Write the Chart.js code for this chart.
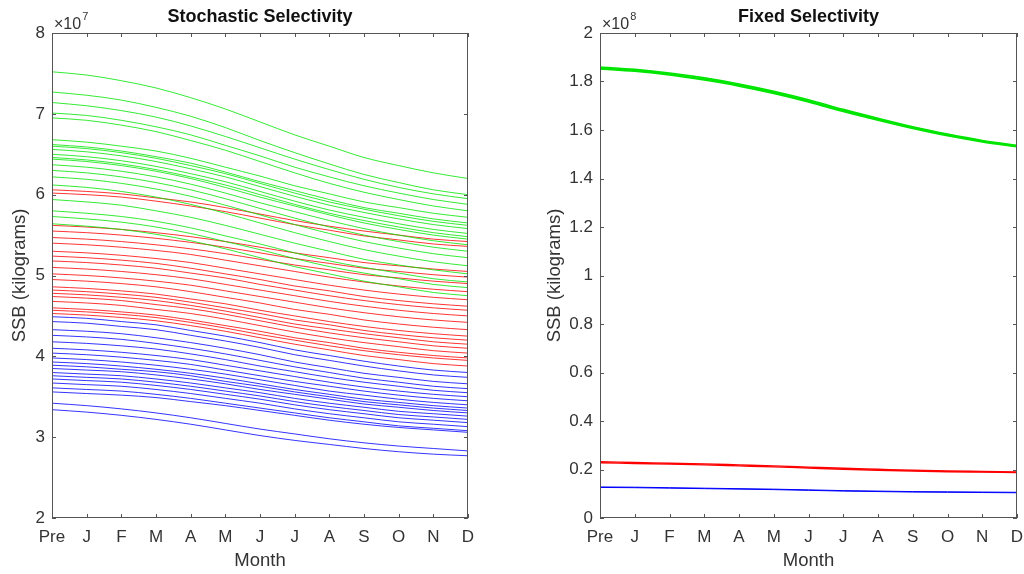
<!DOCTYPE html>
<html>
<head>
<meta charset="utf-8">
<script src="https://cdn.jsdelivr.net/npm/chart.js@4"></script>
<style>
  body { margin: 0; background: #fff; }
  .box { position: absolute; top: 0; height: 574px; }
</style>
</head>
<body>
<div class="box" style="left:0;width:490px"><canvas id="chart1"></canvas></div>
<div class="box" style="left:530px;width:494px"><canvas id="chart2"></canvas></div>
<script>
const months = ['Pre', 'J', 'F', 'M', 'A', 'M', 'J', 'J', 'A', 'S', 'O', 'N', 'D']

// Stochastic selectivity, SSB in units of 1e7 kg
const stochGreen = [
    [7.52, 7.48, 7.41, 7.32, 7.20, 7.06, 6.90, 6.74, 6.60, 6.46, 6.36, 6.27, 6.20],
    [7.27, 7.23, 7.17, 7.08, 6.97, 6.83, 6.67, 6.52, 6.38, 6.25, 6.15, 6.06, 6.00],
    [7.14, 7.10, 7.04, 6.96, 6.85, 6.72, 6.58, 6.44, 6.31, 6.19, 6.09, 6.01, 5.95],
    [7.01, 6.98, 6.92, 6.84, 6.74, 6.61, 6.48, 6.34, 6.22, 6.11, 6.02, 5.94, 5.88],
    [6.95, 6.92, 6.86, 6.78, 6.67, 6.55, 6.41, 6.27, 6.14, 6.03, 5.94, 5.86, 5.80],
    [6.68, 6.65, 6.60, 6.54, 6.45, 6.34, 6.23, 6.11, 6.01, 5.91, 5.84, 5.77, 5.72],
    [6.62, 6.59, 6.54, 6.47, 6.39, 6.28, 6.16, 6.05, 5.94, 5.84, 5.77, 5.70, 5.65],
    [6.60, 6.57, 6.52, 6.45, 6.36, 6.26, 6.14, 6.02, 5.91, 5.82, 5.74, 5.67, 5.62],
    [6.56, 6.53, 6.48, 6.41, 6.32, 6.22, 6.10, 5.98, 5.87, 5.78, 5.70, 5.63, 5.58],
    [6.50, 6.47, 6.42, 6.35, 6.26, 6.16, 6.04, 5.92, 5.81, 5.72, 5.64, 5.57, 5.52],
    [6.46, 6.43, 6.38, 6.31, 6.22, 6.12, 6.00, 5.88, 5.77, 5.68, 5.60, 5.53, 5.48],
    [6.44, 6.41, 6.36, 6.29, 6.20, 6.09, 5.97, 5.86, 5.75, 5.65, 5.57, 5.50, 5.45],
    [6.37, 6.34, 6.29, 6.22, 6.13, 6.02, 5.90, 5.79, 5.68, 5.58, 5.50, 5.43, 5.38],
    [6.30, 6.27, 6.22, 6.15, 6.06, 5.95, 5.83, 5.71, 5.60, 5.50, 5.42, 5.35, 5.30],
    [6.22, 6.19, 6.14, 6.07, 5.98, 5.87, 5.75, 5.63, 5.52, 5.42, 5.34, 5.27, 5.22],
    [6.12, 6.09, 6.04, 5.97, 5.88, 5.77, 5.65, 5.53, 5.42, 5.32, 5.24, 5.17, 5.12],
    [5.94, 5.91, 5.87, 5.80, 5.72, 5.62, 5.51, 5.40, 5.30, 5.20, 5.13, 5.07, 5.02],
    [5.80, 5.77, 5.73, 5.67, 5.59, 5.49, 5.39, 5.28, 5.18, 5.10, 5.03, 4.96, 4.92],
    [5.73, 5.70, 5.66, 5.60, 5.52, 5.42, 5.32, 5.21, 5.11, 5.03, 4.96, 4.89, 4.85],
    [5.64, 5.61, 5.57, 5.51, 5.43, 5.33, 5.22, 5.11, 5.02, 4.93, 4.86, 4.79, 4.75]
]
const stochRed = [
    [6.06, 6.04, 6.01, 5.96, 5.91, 5.84, 5.76, 5.68, 5.61, 5.55, 5.50, 5.45, 5.42],
    [6.02, 6.00, 5.97, 5.92, 5.86, 5.79, 5.71, 5.63, 5.56, 5.49, 5.44, 5.39, 5.36],
    [5.62, 5.60, 5.57, 5.53, 5.48, 5.42, 5.35, 5.28, 5.22, 5.16, 5.12, 5.08, 5.05],
    [5.55, 5.53, 5.50, 5.46, 5.41, 5.35, 5.28, 5.21, 5.15, 5.09, 5.05, 5.01, 4.98],
    [5.47, 5.45, 5.42, 5.38, 5.33, 5.27, 5.20, 5.13, 5.07, 5.01, 4.97, 4.93, 4.90],
    [5.40, 5.38, 5.35, 5.31, 5.26, 5.19, 5.12, 5.05, 4.98, 4.92, 4.87, 4.83, 4.80],
    [5.30, 5.28, 5.25, 5.21, 5.16, 5.09, 5.02, 4.95, 4.88, 4.82, 4.77, 4.73, 4.70],
    [5.24, 5.22, 5.19, 5.15, 5.09, 5.02, 4.95, 4.87, 4.81, 4.74, 4.69, 4.65, 4.62],
    [5.18, 5.16, 5.13, 5.09, 5.03, 4.97, 4.89, 4.82, 4.75, 4.69, 4.64, 4.60, 4.57],
    [5.10, 5.08, 5.05, 5.01, 4.96, 4.89, 4.82, 4.75, 4.68, 4.62, 4.57, 4.53, 4.50],
    [5.02, 5.00, 4.97, 4.93, 4.88, 4.81, 4.74, 4.67, 4.60, 4.54, 4.49, 4.45, 4.42],
    [4.95, 4.93, 4.90, 4.86, 4.80, 4.73, 4.66, 4.58, 4.52, 4.45, 4.40, 4.36, 4.33],
    [4.86, 4.84, 4.81, 4.77, 4.71, 4.65, 4.57, 4.50, 4.43, 4.37, 4.32, 4.28, 4.25],
    [4.82, 4.80, 4.77, 4.73, 4.67, 4.60, 4.53, 4.45, 4.39, 4.32, 4.27, 4.23, 4.20],
    [4.78, 4.76, 4.73, 4.69, 4.63, 4.56, 4.48, 4.40, 4.34, 4.28, 4.23, 4.18, 4.15],
    [4.74, 4.72, 4.69, 4.64, 4.59, 4.52, 4.44, 4.36, 4.29, 4.23, 4.18, 4.13, 4.10],
    [4.68, 4.66, 4.63, 4.58, 4.53, 4.46, 4.38, 4.30, 4.23, 4.17, 4.12, 4.07, 4.04],
    [4.60, 4.58, 4.55, 4.51, 4.45, 4.38, 4.31, 4.23, 4.17, 4.10, 4.05, 4.01, 3.98],
    [4.57, 4.55, 4.52, 4.48, 4.42, 4.35, 4.27, 4.20, 4.13, 4.07, 4.02, 3.98, 3.95],
    [4.53, 4.51, 4.48, 4.44, 4.38, 4.31, 4.23, 4.15, 4.08, 4.01, 3.96, 3.91, 3.88]
]
const stochBlue = [
    [4.49, 4.47, 4.43, 4.39, 4.32, 4.25, 4.17, 4.08, 4.01, 3.94, 3.88, 3.83, 3.80],
    [4.43, 4.41, 4.37, 4.33, 4.26, 4.19, 4.11, 4.02, 3.95, 3.88, 3.82, 3.77, 3.74],
    [4.33, 4.31, 4.28, 4.23, 4.17, 4.10, 4.02, 3.93, 3.86, 3.79, 3.74, 3.69, 3.66],
    [4.26, 4.24, 4.21, 4.16, 4.10, 4.03, 3.95, 3.87, 3.80, 3.73, 3.68, 3.63, 3.60],
    [4.18, 4.16, 4.13, 4.09, 4.03, 3.96, 3.88, 3.81, 3.74, 3.68, 3.63, 3.58, 3.55],
    [4.10, 4.08, 4.05, 4.01, 3.96, 3.89, 3.82, 3.75, 3.68, 3.62, 3.57, 3.53, 3.50],
    [4.04, 4.02, 3.99, 3.95, 3.90, 3.83, 3.76, 3.69, 3.63, 3.57, 3.52, 3.48, 3.45],
    [3.98, 3.96, 3.93, 3.89, 3.84, 3.78, 3.71, 3.64, 3.57, 3.52, 3.47, 3.43, 3.40],
    [3.93, 3.91, 3.88, 3.84, 3.79, 3.73, 3.66, 3.59, 3.53, 3.47, 3.43, 3.39, 3.36],
    [3.89, 3.87, 3.84, 3.81, 3.76, 3.69, 3.63, 3.56, 3.50, 3.44, 3.40, 3.36, 3.33],
    [3.85, 3.83, 3.81, 3.77, 3.72, 3.66, 3.59, 3.53, 3.47, 3.41, 3.37, 3.33, 3.30],
    [3.80, 3.78, 3.76, 3.72, 3.67, 3.61, 3.55, 3.48, 3.42, 3.37, 3.32, 3.29, 3.26],
    [3.76, 3.74, 3.72, 3.68, 3.63, 3.57, 3.51, 3.44, 3.38, 3.33, 3.28, 3.25, 3.22],
    [3.72, 3.70, 3.68, 3.64, 3.59, 3.53, 3.47, 3.40, 3.34, 3.29, 3.24, 3.21, 3.18],
    [3.67, 3.65, 3.63, 3.59, 3.54, 3.48, 3.42, 3.35, 3.29, 3.24, 3.19, 3.16, 3.13],
    [3.61, 3.59, 3.57, 3.53, 3.48, 3.42, 3.36, 3.30, 3.24, 3.19, 3.14, 3.11, 3.08],
    [3.56, 3.54, 3.52, 3.49, 3.44, 3.39, 3.33, 3.27, 3.21, 3.16, 3.12, 3.09, 3.06],
    [3.42, 3.39, 3.35, 3.30, 3.24, 3.17, 3.10, 3.04, 2.98, 2.93, 2.89, 2.86, 2.83],
    [3.34, 3.31, 3.27, 3.22, 3.16, 3.09, 3.02, 2.96, 2.91, 2.86, 2.82, 2.79, 2.77]
]

// Fixed selectivity, SSB in units of 1e8 kg
const fixedGreen = [
    [1.860, 1.850, 1.835, 1.815, 1.790, 1.760, 1.725, 1.685, 1.648, 1.613, 1.583, 1.557, 1.537],
    [1.856, 1.846, 1.831, 1.810, 1.786, 1.756, 1.720, 1.680, 1.644, 1.610, 1.580, 1.554, 1.534],
    [1.852, 1.842, 1.827, 1.806, 1.781, 1.751, 1.716, 1.676, 1.640, 1.606, 1.576, 1.551, 1.531]
]
const fixedRed = [
    [0.232, 0.229, 0.226, 0.223, 0.219, 0.215, 0.210, 0.205, 0.201, 0.197, 0.194, 0.192, 0.190],
    [0.228, 0.225, 0.222, 0.219, 0.215, 0.211, 0.206, 0.201, 0.197, 0.194, 0.191, 0.189, 0.187]
]
const fixedBlue = [
    [0.128, 0.127, 0.125, 0.123, 0.121, 0.119, 0.116, 0.113, 0.111, 0.109, 0.108, 0.107, 0.106],
    [0.126, 0.125, 0.123, 0.121, 0.119, 0.117, 0.114, 0.111, 0.109, 0.107, 0.106, 0.105, 0.104]
]

const FONT = "'Liberation Sans', Arial, sans-serif"
const TEXT = '#333333'

function lines(rows, color, width) {
    return rows.map(row => ({
        data: row,
        borderColor: color,
        borderWidth: width,
        pointRadius: 0,
        cubicInterpolationMode: 'monotone',
        fill: false
    }))
}

// box round the axes, inside ticks, title and the x10^n label
const frame = {
    id: 'frame',
    afterDraw(chart, args, opts) {
        const {ctx, chartArea: a, scales: {x, y}} = chart
        ctx.save()
        ctx.strokeStyle = '#555555'
        ctx.lineWidth = 1
        ctx.strokeRect(Math.round(a.left) + 0.5, Math.round(a.top) + 0.5,
            Math.round(a.width) - 1, Math.round(a.height) - 1)
        ctx.beginPath()
        x.ticks.forEach((t, i) => {
            const px = Math.round(x.getPixelForTick(i)) + 0.5
            ctx.moveTo(px, a.bottom); ctx.lineTo(px, a.bottom - 4)
            ctx.moveTo(px, a.top); ctx.lineTo(px, a.top + 4)
        })
        y.ticks.forEach((t, i) => {
            const py = Math.round(y.getPixelForTick(i)) + 0.5
            ctx.moveTo(a.left, py); ctx.lineTo(a.left + 4, py)
            ctx.moveTo(a.right, py); ctx.lineTo(a.right - 4, py)
        })
        ctx.stroke()

        ctx.fillStyle = '#111111'
        ctx.font = 'bold 18px ' + FONT
        ctx.textAlign = 'center'
        ctx.textBaseline = 'middle'
        ctx.fillText(opts.title, (a.left + a.right) / 2, 17)

        ctx.fillStyle = TEXT
        ctx.textAlign = 'left'
        ctx.font = '16px ' + FONT
        ctx.fillText('\u00d710', a.left + 2, 25)
        const w = ctx.measureText('\u00d710').width
        ctx.font = '11px ' + FONT
        ctx.fillText(opts.exp, a.left + 2 + w + 1, 17)
        ctx.restore()
    }
}

function makeChart(id, datasets, yMin, yMax, yStep, plotLeft, plotRight, yTitlePad, titleText, exp) {
    const ctx = document.querySelector(id).getContext('2d')
    return new Chart(ctx, {
        type: 'line',
        data: { labels: months, datasets: datasets },
        options: {
            responsive: true,
            maintainAspectRatio: false,
            animation: false,
            layout: { padding: { top: 33, right: plotRight, left: 0, bottom: 0 } },
            plugins: {
                legend: { display: false },
                tooltip: { enabled: false },
                frame: { title: titleText, exp: exp }
            },
            scales: {
                x: {
                    offset: false,
                    grid: { display: false, drawTicks: false },
                    border: { display: false },
                    ticks: { color: TEXT, font: { family: FONT, size: 17 }, padding: 9, autoSkip: false, maxRotation: 0 },
                    title: { display: true, text: 'Month', color: TEXT, font: { family: FONT, size: 18.5 }, padding: { top: 0, bottom: 2 } },
                    afterFit: scale => {
                        scale.height = 56
                        scale.paddingLeft = 0
                        scale.paddingRight = 0
                    }
                },
                y: {
                    min: yMin,
                    max: yMax,
                    grid: { display: false, drawTicks: false },
                    border: { display: false },
                    ticks: {
                        stepSize: yStep, color: TEXT, font: { family: FONT, size: 17 }, padding: 7,
                        callback: v => String(Number(v.toFixed(1)))
                    },
                    title: { display: true, text: 'SSB (kilograms)', color: TEXT, font: { family: FONT, size: 18.5 }, padding: { top: yTitlePad, bottom: 0 } },
                    afterFit: scale => {
                        scale.width = plotLeft
                        scale.paddingTop = 0
                        scale.paddingBottom = 0
                    }
                }
            }
        },
        plugins: [frame]
    })
}

makeChart('#chart1',
    [...lines(stochGreen, '#00e600', 0.8), ...lines(stochRed, '#ff0000', 0.8), ...lines(stochBlue, '#0000ff', 0.8)],
    2, 8, 1, 52, 22, 9, 'Stochastic Selectivity', '7')

makeChart('#chart2',
    [...lines(fixedGreen, '#00e600', 1.6), ...lines(fixedRed, '#ff0000', 1.4), ...lines(fixedBlue, '#0000ff', 1)],
    0, 2, 0.2, 70, 7, 14, 'Fixed Selectivity', '8')
</script>
</body>
</html>
